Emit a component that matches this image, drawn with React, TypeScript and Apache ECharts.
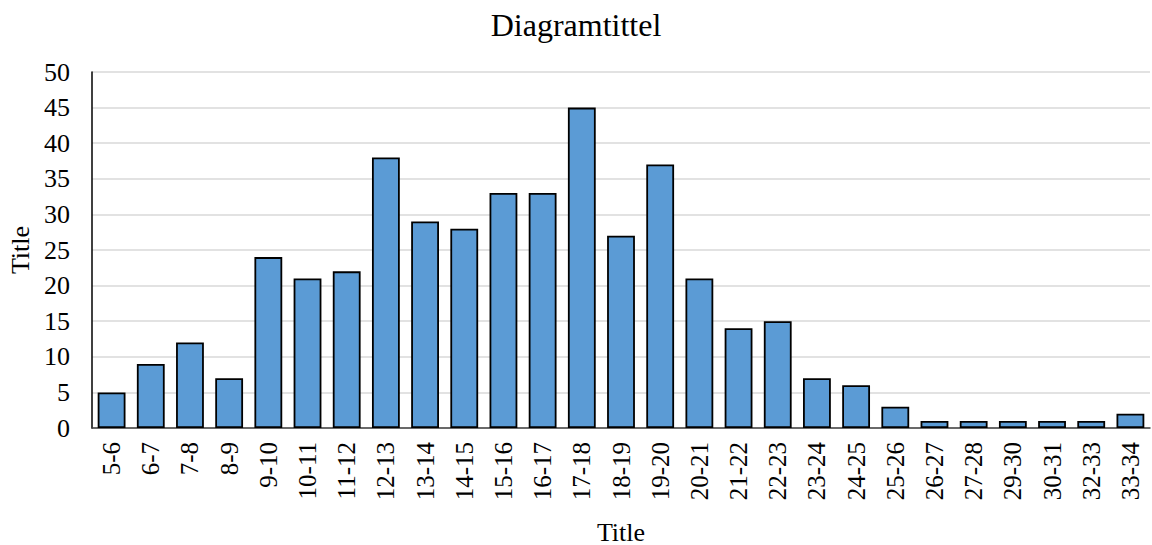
import React, { useEffect, useRef } from "react";
import * as echarts from "echarts";

const categories = [
  "5-6", "6-7", "7-8", "8-9", "9-10", "10-11", "11-12", "12-13", "13-14",
  "14-15", "15-16", "16-17", "17-18", "18-19", "19-20", "20-21", "21-22",
  "22-23", "23-24", "24-25", "25-26", "26-27", "27-28", "29-30", "30-31",
  "32-33", "33-34",
];
const counts = [
  5, 9, 12, 7, 24, 21, 22, 38, 29, 28, 33, 33, 45, 27, 37, 21, 14, 15, 7, 6,
  3, 1, 1, 1, 1, 1, 2,
];

const FONT = "Liberation Serif";

export default function App() {
  const ref = useRef<HTMLDivElement>(null);

  useEffect(() => {
    if (!ref.current) return;
    const chart = echarts.init(ref.current, undefined, { renderer: "svg" });
    chart.setOption({
      animation: false,
      backgroundColor: "#ffffff",
      textStyle: { fontFamily: FONT, color: "#000" },
      title: {
        text: "Diagramtittel",
        left: "center",
        top: 4,
        textStyle: { fontFamily: FONT, fontSize: 32, fontWeight: "normal", color: "#000" },
      },
      grid: {
        left: 92,
        right: 2,
        top: 72,
        bottom: 117,
        containLabel: false,
        outerBoundsMode: "none",
      },
      xAxis: {
        type: "category",
        data: categories,
        name: "Title",
        nameLocation: "middle",
        nameGap: 91,
        nameTextStyle: { fontFamily: FONT, fontSize: 26, color: "#000" },
        axisLine: { lineStyle: { color: "#404040", width: 1.5 } },
        axisTick: { show: false },
        axisLabel: {
          rotate: 90,
          interval: 0,
          margin: 14,
          fontFamily: FONT,
          fontSize: 25,
          color: "#000",
        },
      },
      yAxis: {
        type: "value",
        min: 0,
        max: 50,
        interval: 5,
        name: "Title",
        nameLocation: "middle",
        nameGap: 58,
        nameTextStyle: { fontFamily: FONT, fontSize: 26, color: "#000" },
        axisLine: { show: true, lineStyle: { color: "#000", width: 1.5 } },
        axisTick: { show: false },
        axisLabel: { fontFamily: FONT, fontSize: 26, color: "#000", margin: 22 },
        splitLine: { lineStyle: { color: "#d9d9d9", width: 1.5 } },
      },
      series: [
        {
          type: "bar",
          data: counts,
          barCategoryGap: "29%",
          itemStyle: { color: "#5b9bd5", borderColor: "#000", borderWidth: 1.8 },
        },
      ],
    });
    return () => chart.dispose();
  }, []);

  return (
    <div
      ref={ref}
      style={{ position: "fixed", left: 0, top: 0, width: 1152, height: 545 }}
    />
  );
}
